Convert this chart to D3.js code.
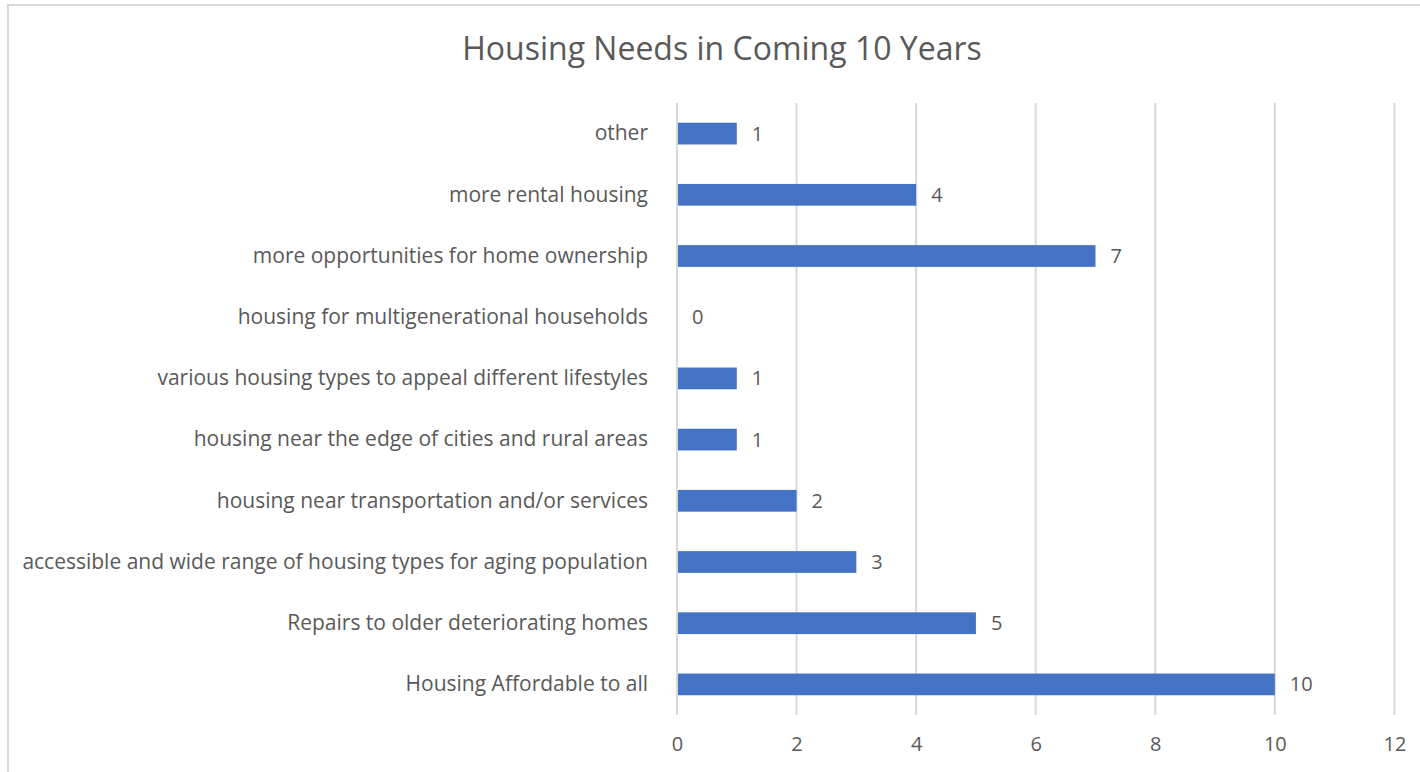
<!DOCTYPE html>
<html>
<head>
<meta charset="utf-8">
<script src="https://cdn.jsdelivr.net/npm/d3@7"></script>
<style>
  html, body { margin: 0; padding: 0; background: #fff; }
  svg text { font-family: "Open Sans", "Liberation Sans", sans-serif; fill: #595959; }
</style>
</head>
<body>
<div id="chart"></div>
<script>
// categories top to bottom, as drawn
var categories = [
    "other",
    "more rental housing",
    "more opportunities for home ownership",
    "housing for multigenerational households",
    "various housing types to appeal different lifestyles",
    "housing near the edge of cities and rural areas",
    "housing near transportation and/or services",
    "accessible and wide range of housing types for aging population",
    "Repairs to older deteriorating homes",
    "Housing Affordable to all"
];
var counts = [1, 4, 7, 0, 1, 1, 2, 3, 5, 10];
var xTicks = [0, 2, 4, 6, 8, 10, 12];
var title = "Housing Needs in Coming 10 Years";

var width = 1420,
    height = 772,
    margin = { top: 103, right: 26, bottom: 57, left: 677 },
    innerW = width - margin.left - margin.right,
    innerH = height - margin.top - margin.bottom;

var data = categories.map(function (c, i) {
    return { cat: c, val: counts[i] };
});

var svg = d3.select("#chart").append("svg")
    .attr("width", width)
    .attr("height", height);

// chart frame
svg.append("rect")
    .attr("x", 8)
    .attr("y", 5)
    .attr("width", width)
    .attr("height", height)
    .attr("fill", "none")
    .attr("stroke", "#d9d9d9")
    .attr("stroke-width", 2);

svg.append("text")
    .attr("x", 722)
    .attr("y", 60)
    .attr("text-anchor", "middle")
    .style("font-size", "32px")
    .text(title);

var g = svg.append("g")
    .attr("transform", "translate(" + margin.left + "," + margin.top + ")");

var x = d3.scaleLinear().domain([0, 12]).range([0, 717.4]);
var y = d3.scaleBand().domain(categories).range([0, innerH]).paddingInner(0.645).paddingOuter(0.3225);

// gridlines
g.append("g").selectAll("line")
    .data(xTicks)
    .enter()
    .append("line")
    .attr("x1", function (d) { return x(d); })
    .attr("x2", function (d) { return x(d); })
    .attr("y1", 0)
    .attr("y2", innerH)
    .attr("stroke", "#d9d9d9")
    .attr("stroke-width", 2);

var xAxis = d3.axisBottom(x).tickValues(xTicks).tickSize(0).tickPadding(22);
g.append("g")
    .attr("transform", "translate(0," + innerH + ")")
    .call(xAxis)
    .call(function (s) { s.select(".domain").remove(); })
    .selectAll("text")
    .style("font-size", "20px")
    .attr("fill", "#595959");

var yAxis = d3.axisLeft(y).tickSize(0).tickPadding(29);
g.append("g")
    .call(yAxis)
    .call(function (s) { s.select(".domain").remove(); })
    .selectAll("text")
    .style("font-size", "21px")
    .attr("fill", "#595959");

g.selectAll(".bar")
    .data(data)
    .enter()
    .append("rect")
    .attr("class", "bar")
    .attr("x", x(0) + 1)
    .attr("y", function (d) { return y(d.cat); })
    .attr("width", function (d) { return Math.max(0, x(d.val) - x(0) - 1); })
    .attr("height", y.bandwidth())
    .attr("fill", "#4472c4");

g.selectAll(".lbl")
    .data(data)
    .enter()
    .append("text")
    .attr("class", "lbl")
    .attr("x", function (d) { return x(d.val) + 15; })
    .attr("y", function (d) { return y(d.cat) + y.bandwidth() / 2; })
    .attr("dy", "0.35em")
    .style("font-size", "20px")
    .text(function (d) { return d.val; });
</script>
</body>
</html>
